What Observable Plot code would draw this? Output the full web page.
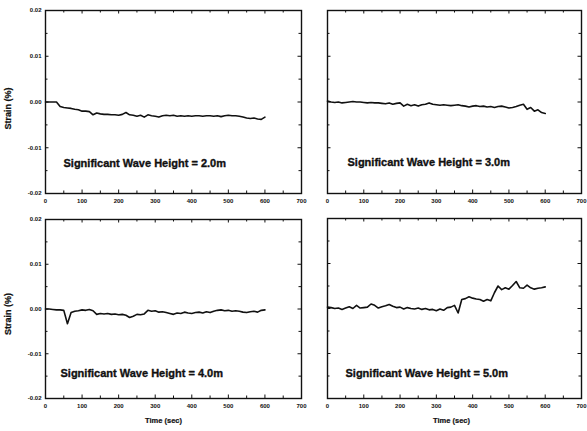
<!DOCTYPE html>
<html><head><meta charset="utf-8">
<script src="https://cdn.jsdelivr.net/npm/d3@7"></script>
<script src="https://cdn.jsdelivr.net/npm/@observablehq/plot@0.6"></script>
<style>
body{margin:0;background:#fff;}
#wrap{position:relative;width:587px;height:431px;overflow:hidden;background:#fff;}
#wrap svg{position:absolute;overflow:visible;background:transparent;}
</style></head><body><div id="wrap"></div>
<script>
// Sample times (sec)
const time = [0,10,20,30,40,50,60,70,80,90,
  100,110,120,130,140,150,160,170,180,190,
  200,210,220,230,240,250,260,270,280,290,
  300,310,320,330,340,350,360,370,380,390,
  400,410,420,430,440,450,460,470,480,490,
  500,510,520,530,540,550,560,570,580,590,
  600];

// Strain (%) for each significant wave height
const strain20 = [0.0000,0.0000,0.0000,0.0000,-0.0010,-0.0012,-0.0013,-0.0014,-0.0016,-0.0017,
  -0.0020,-0.0020,-0.0021,-0.0028,-0.0024,-0.0026,-0.0027,-0.0027,-0.0028,-0.0028,
  -0.0029,-0.0027,-0.0023,-0.0028,-0.0029,-0.0031,-0.0029,-0.0033,-0.0028,-0.0030,
  -0.0031,-0.0033,-0.0030,-0.0029,-0.0030,-0.0029,-0.0031,-0.0030,-0.0031,-0.0030,
  -0.0031,-0.0030,-0.0030,-0.0031,-0.0030,-0.0030,-0.0031,-0.0030,-0.0032,-0.0030,
  -0.0029,-0.0030,-0.0030,-0.0031,-0.0033,-0.0035,-0.0036,-0.0035,-0.0037,-0.0038,
  -0.0033];
const strain30 = [0.0002,0.0000,-0.0001,0.0000,-0.0002,-0.0001,0.0000,0.0001,0.0000,0.0000,
  -0.0001,-0.0002,-0.0001,-0.0002,-0.0002,-0.0003,-0.0004,-0.0002,-0.0005,-0.0003,
  -0.0002,-0.0009,-0.0005,-0.0008,-0.0006,-0.0009,-0.0006,-0.0005,-0.0002,-0.0005,
  -0.0006,-0.0007,-0.0006,-0.0007,-0.0008,-0.0007,-0.0006,-0.0008,-0.0009,-0.0011,
  -0.0009,-0.0008,-0.0010,-0.0009,-0.0011,-0.0010,-0.0012,-0.0010,-0.0009,-0.0011,
  -0.0013,-0.0012,-0.0010,-0.0007,-0.0005,-0.0016,-0.0012,-0.0020,-0.0017,-0.0023,
  -0.0025];
const strain40 = [0.0000,0.0000,-0.0001,-0.0002,-0.0002,-0.0003,-0.0033,-0.0008,-0.0005,-0.0004,
  -0.0002,-0.0003,-0.0001,-0.0004,-0.0012,-0.0010,-0.0011,-0.0010,-0.0012,-0.0011,
  -0.0013,-0.0012,-0.0014,-0.0019,-0.0016,-0.0012,-0.0013,-0.0011,-0.0003,-0.0005,
  -0.0004,-0.0007,-0.0006,-0.0008,-0.0010,-0.0012,-0.0009,-0.0010,-0.0007,-0.0009,
  -0.0010,-0.0008,-0.0007,-0.0009,-0.0006,-0.0008,-0.0005,-0.0003,-0.0002,-0.0004,
  -0.0003,-0.0005,-0.0004,-0.0005,-0.0007,-0.0008,-0.0006,-0.0005,-0.0007,-0.0003,
  -0.0002];
const strain50 = [0.0003,0.0002,0.0000,0.0001,-0.0002,0.0001,0.0004,0.0000,0.0007,0.0001,
  0.0002,0.0003,0.0010,0.0007,0.0001,0.0004,0.0006,0.0009,0.0005,0.0002,
  0.0003,-0.0001,0.0002,0.0000,-0.0001,0.0001,-0.0002,0.0000,-0.0003,-0.0002,
  -0.0005,-0.0001,-0.0004,0.0002,0.0003,0.0007,-0.0010,0.0020,0.0022,0.0026,
  0.0023,0.0021,0.0020,0.0016,0.0020,0.0017,0.0035,0.0050,0.0042,0.0046,
  0.0043,0.0051,0.0060,0.0046,0.0045,0.0052,0.0046,0.0043,0.0045,0.0046,
  0.0048];

const labels = ["Significant Wave Height = 2.0m","Significant Wave Height = 3.0m",
  "Significant Wave Height = 4.0m","Significant Wave Height = 5.0m"];

// Tick values
const xMajor = [0,100,200,300,400,500,600,700];
const xMinor = [50,150,250,350,450,550,650];
const yMajor = [-0.02,-0.01,0,0.01,0.02];
const yMinor = [-0.015,-0.005,0.005,0.015];

const FONT = "'Liberation Sans', Arial, Helvetica, sans-serif";
const INK = "#111";

const panels = [
  {values: strain20, label: labels[0], left: 0,   top: 0,   width: 305, height: 215, ml: 45, mr: 4, mt: 10, mb: 22, showY: true,  showT: false, ldx: 18, ldy: -30, sdy: 6.5},
  {values: strain30, label: labels[1], left: 305, top: 0,   width: 282, height: 215, ml: 22, mr: 6, mt: 10, mb: 22, showY: false, showT: false, ldx: 20, ldy: -31},
  {values: strain40, label: labels[2], left: 0,   top: 215, width: 305, height: 216, ml: 45, mr: 4, mt: 4,  mb: 33, showY: true,  showT: true,  ldx: 15, ldy: -25, sdy: 5, tdx: -10},
  {values: strain50, label: labels[3], left: 305, top: 215, width: 282, height: 216, ml: 22, mr: 6, mt: 3,  mb: 33, showY: false, showT: true,  ldx: 18, ldy: -25, tdx: -3}
];

const wrap = document.getElementById("wrap");

for (const p of panels) {
  const iw = p.width - p.ml - p.mr;
  const ih = p.height - p.mt - p.mb;
  const data = time.map((t, i) => ({t, v: p.values[i]}));
  const marks = [
    Plot.tickX(xMajor, {x: d => d, insetTop: ih - 3.5, stroke: INK, strokeWidth: 1}),
    Plot.tickX(xMajor, {x: d => d, insetBottom: ih - 3.5, stroke: INK, strokeWidth: 1}),
    Plot.tickX(xMinor, {x: d => d, insetTop: ih - 2.5, stroke: INK, strokeWidth: 1}),
    Plot.tickX(xMinor, {x: d => d, insetBottom: ih - 2.5, stroke: INK, strokeWidth: 1}),
    Plot.tickY(yMajor, {y: d => d, insetRight: iw - 3.5, stroke: INK, strokeWidth: 1}),
    Plot.tickY(yMajor, {y: d => d, insetLeft: iw - 3.5, stroke: INK, strokeWidth: 1}),
    Plot.tickY(yMinor, {y: d => d, insetRight: iw - 2.5, stroke: INK, strokeWidth: 1}),
    Plot.tickY(yMinor, {y: d => d, insetLeft: iw - 2.5, stroke: INK, strokeWidth: 1}),
    Plot.frame({stroke: INK, strokeWidth: 1.4}),
    Plot.axisX(xMajor, {tickSize: 0, tickPadding: 5, tickFormat: d => String(d), fontSize: 6, fontWeight: "bold", label: null, fill: INK}),
    Plot.line(data, {x: "t", y: "v", stroke: INK, strokeWidth: 1.6}),
    Plot.text([p.label], {text: d => d, frameAnchor: "bottom-left", textAnchor: "start", lineAnchor: "middle",
      dx: p.ldx, dy: p.ldy, fontSize: 11, fontWeight: "bold", fill: INK, stroke: INK, strokeWidth: 0.35})
  ];
  if (p.showY) {
    marks.push(Plot.axisY(yMajor, {tickSize: 0, tickPadding: 4, tickFormat: d => d.toFixed(2), fontSize: 6, fontWeight: "bold", label: null, fill: INK}));
    marks.push(Plot.text(["Strain (%)"], {text: d => d, frameAnchor: "left", rotate: -90, dx: -37.5, dy: p.sdy,
      textAnchor: "middle", lineAnchor: "middle", fontSize: 9, fontWeight: "bold", fill: INK, stroke: INK, strokeWidth: 0.25}));
  }
  if (p.showT) {
    marks.push(Plot.text(["Time (sec)"], {text: d => d, frameAnchor: "bottom", dx: p.tdx, dy: 22,
      textAnchor: "middle", lineAnchor: "middle", fontSize: 7.5, fontWeight: "bold", fill: INK, stroke: INK, strokeWidth: 0.2}));
  }
  const svg = Plot.plot({
    width: p.width, height: p.height,
    marginLeft: p.ml, marginRight: p.mr, marginTop: p.mt, marginBottom: p.mb,
    x: {domain: [0, 700]},
    y: {domain: [-0.02, 0.02], axis: p.showY ? undefined : null},
    style: {fontFamily: FONT, background: "transparent", overflow: "visible"},
    marks
  });
  svg.style.position = "absolute";
  svg.style.left = p.left + "px";
  svg.style.top = p.top + "px";
  wrap.appendChild(svg);
}
</script></body></html>
